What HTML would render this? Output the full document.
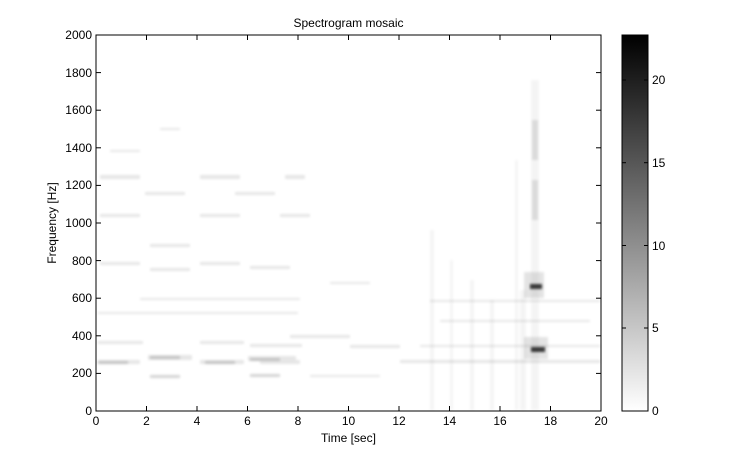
<!DOCTYPE html>
<html><head><style>
body{margin:0;background:#fff;}
svg text{font-family:"Liberation Sans",sans-serif;font-size:12px;fill:#000;}
</style></head><body>
<svg width="740" height="462" xmlns="http://www.w3.org/2000/svg">
<defs>
<linearGradient id="cb" x1="0" y1="1" x2="0" y2="0">
<stop offset="0" stop-color="#fff"/><stop offset="1" stop-color="#000"/>
</linearGradient>
<filter id="bl"><feGaussianBlur stdDeviation="1.2"/></filter>
</defs>
<rect x="96" y="35" width="505" height="376" fill="#fff"/>
<g filter="url(#bl)" fill="#000" opacity="0.55">
<g opacity="0.18">
<rect x="98" y="360" width="42" height="4"/><rect x="148" y="355" width="44" height="5"/><rect x="200" y="360" width="44" height="4"/><rect x="248" y="356" width="48" height="5"/><rect x="260" y="360" width="40" height="4"/>
<rect x="98" y="341" width="45" height="3"/><rect x="200" y="341" width="44" height="3"/><rect x="250" y="344" width="52" height="3"/><rect x="290" y="335" width="60" height="3"/>
<rect x="98" y="312" width="200" height="2"/><rect x="140" y="298" width="160" height="2"/>
<rect x="100" y="262" width="40" height="3"/><rect x="150" y="268" width="40" height="3"/><rect x="200" y="262" width="40" height="3"/><rect x="250" y="266" width="40" height="3"/>
<rect x="100" y="214" width="40" height="3"/><rect x="200" y="214" width="40" height="3"/><rect x="280" y="214" width="30" height="3"/>
<rect x="150" y="244" width="40" height="3"/>
<rect x="100" y="175" width="40" height="4"/><rect x="200" y="175" width="40" height="4"/><rect x="285" y="175" width="20" height="4"/>
<rect x="145" y="192" width="40" height="3"/><rect x="235" y="192" width="40" height="3"/>
<rect x="310" y="375" width="70" height="2"/>
<rect x="350" y="345" width="50" height="3"/><rect x="330" y="282" width="40" height="2"/>
<rect x="160" y="128" width="20" height="2"/><rect x="110" y="150" width="30" height="2"/>
<rect x="400" y="360" width="200" height="3"/><rect x="420" y="345" width="180" height="2"/>
<rect x="440" y="320" width="150" height="2"/><rect x="430" y="300" width="170" height="2"/>
</g>
<g opacity="0.3">
<rect x="98" y="361" width="30" height="3"/><rect x="150" y="356" width="30" height="3"/><rect x="205" y="361" width="30" height="3"/><rect x="250" y="358" width="30" height="3"/>
<rect x="150" y="375" width="30" height="3"/><rect x="250" y="374" width="30" height="3"/>
</g>
<g opacity="0.08">
<rect x="430" y="230" width="4" height="180"/><rect x="450" y="260" width="3" height="150"/><rect x="470" y="280" width="4" height="130"/>
<rect x="490" y="300" width="4" height="110"/><rect x="520" y="290" width="6" height="120"/>
<rect x="515" y="160" width="3" height="250"/><rect x="531" y="80" width="8" height="330"/>
</g>
<g opacity="0.2">
<rect x="524" y="272" width="20" height="26"/><rect x="524" y="337" width="24" height="22"/><rect x="532" y="180" width="6" height="40"/><rect x="532" y="120" width="6" height="40"/>
</g>
</g>
<g filter="url(#bl)" fill="#000" opacity="0.75">
<rect x="530" y="284" width="12" height="5"/><rect x="531" y="347" width="14" height="5"/>
</g>
<rect x="96" y="35" width="505" height="376" fill="none" stroke="#000" stroke-width="1"/>
<g stroke="#000" stroke-width="1">
<line x1="146.5" y1="411" x2="146.5" y2="406"/><line x1="197" y1="411" x2="197" y2="406"/><line x1="247.5" y1="411" x2="247.5" y2="406"/><line x1="298" y1="411" x2="298" y2="406"/><line x1="348.5" y1="411" x2="348.5" y2="406"/><line x1="399" y1="411" x2="399" y2="406"/><line x1="449.5" y1="411" x2="449.5" y2="406"/><line x1="500" y1="411" x2="500" y2="406"/><line x1="550.5" y1="411" x2="550.5" y2="406"/>
<line x1="146.5" y1="35" x2="146.5" y2="40"/><line x1="197" y1="35" x2="197" y2="40"/><line x1="247.5" y1="35" x2="247.5" y2="40"/><line x1="298" y1="35" x2="298" y2="40"/><line x1="348.5" y1="35" x2="348.5" y2="40"/><line x1="399" y1="35" x2="399" y2="40"/><line x1="449.5" y1="35" x2="449.5" y2="40"/><line x1="500" y1="35" x2="500" y2="40"/><line x1="550.5" y1="35" x2="550.5" y2="40"/>
<line x1="96" y1="373.4" x2="101" y2="373.4"/><line x1="96" y1="335.8" x2="101" y2="335.8"/><line x1="96" y1="298.2" x2="101" y2="298.2"/><line x1="96" y1="260.6" x2="101" y2="260.6"/><line x1="96" y1="223" x2="101" y2="223"/><line x1="96" y1="185.4" x2="101" y2="185.4"/><line x1="96" y1="147.8" x2="101" y2="147.8"/><line x1="96" y1="110.2" x2="101" y2="110.2"/><line x1="96" y1="72.6" x2="101" y2="72.6"/>
<line x1="601" y1="373.4" x2="596" y2="373.4"/><line x1="601" y1="335.8" x2="596" y2="335.8"/><line x1="601" y1="298.2" x2="596" y2="298.2"/><line x1="601" y1="260.6" x2="596" y2="260.6"/><line x1="601" y1="223" x2="596" y2="223"/><line x1="601" y1="185.4" x2="596" y2="185.4"/><line x1="601" y1="147.8" x2="596" y2="147.8"/><line x1="601" y1="110.2" x2="596" y2="110.2"/><line x1="601" y1="72.6" x2="596" y2="72.6"/>
</g>
<g text-anchor="end">
<text x="92" y="415">0</text><text x="92" y="377">200</text><text x="92" y="340">400</text><text x="92" y="302">600</text><text x="92" y="265">800</text><text x="92" y="227">1000</text><text x="92" y="189">1200</text><text x="92" y="152">1400</text><text x="92" y="114">1600</text><text x="92" y="77">1800</text><text x="92" y="39">2000</text>
</g>
<g text-anchor="middle">
<text x="96" y="425">0</text><text x="146.5" y="425">2</text><text x="197" y="425">4</text><text x="247.5" y="425">6</text><text x="298" y="425">8</text><text x="348.5" y="425">10</text><text x="399" y="425">12</text><text x="449.5" y="425">14</text><text x="500" y="425">16</text><text x="550.5" y="425">18</text><text x="601" y="425">20</text>
<text x="348.5" y="442">Time [sec]</text>
<text x="348.5" y="27">Spectrogram mosaic</text>
<text transform="translate(56,223) rotate(-90)">Frequency [Hz]</text>
</g>
<rect x="622" y="35" width="26" height="376" fill="url(#cb)" stroke="#000" stroke-width="1"/>
<g stroke="#000"><line x1="648" y1="328" x2="644" y2="328"/><line x1="648" y1="245.5" x2="644" y2="245.5"/><line x1="648" y1="162.7" x2="644" y2="162.7"/><line x1="648" y1="80" x2="644" y2="80"/>
<line x1="622" y1="328" x2="626" y2="328"/><line x1="622" y1="245.5" x2="626" y2="245.5"/><line x1="622" y1="162.7" x2="626" y2="162.7"/><line x1="622" y1="80" x2="626" y2="80"/></g>
<text x="652" y="415">0</text><text x="652" y="332">5</text><text x="652" y="250">10</text><text x="652" y="167">15</text><text x="652" y="84">20</text>
</svg>
</body></html>
